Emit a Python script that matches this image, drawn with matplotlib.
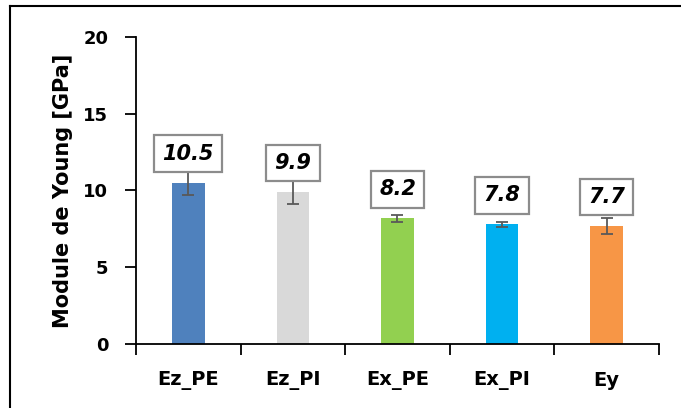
import matplotlib
matplotlib.use('Agg')
import matplotlib.pyplot as plt
from matplotlib.lines import Line2D

plt.rcParams['font.family'] = ['DejaVu Sans']

# donnees
categories = ['Ez_PE', 'Ez_PI', 'Ex_PE', 'Ex_PI', 'Ey']
valeurs = [10.5, 9.9, 8.2, 7.8, 7.7]
erreurs = [0.8, 0.8, 0.23, 0.18, 0.5]
couleurs = ['#4F81BD', '#D9D9D9', '#92D050', '#00B0F0', '#F79646']
yticks = [0, 5, 10, 15, 20]

fig = plt.figure(figsize=(6.81, 4.08), dpi=100)
ax = fig.add_axes([0.1997, 0.1561, 0.768, 0.754])

x = range(len(categories))
ax.bar(x, valeurs, width=0.31, color=couleurs, zorder=2)
ax.errorbar(x, valeurs, yerr=erreurs, fmt='none', ecolor='#595959',
            elinewidth=1.3, capsize=4.3, capthick=1.3, zorder=3)

# etiquettes de valeur dans des cadres
for xi, v in zip(x, valeurs):
    ax.annotate('%.1f' % v, (xi, v), xytext=(0, 29), textcoords='offset pixels',
                ha='center', va='center', fontsize=15, fontweight='bold',
                fontstyle='italic', zorder=4,
                bbox=dict(boxstyle='square,pad=0.4', fc='white', ec='#8C8C8C', lw=1.6))

ax.set_xlim(-0.5, len(categories) - 0.5)
ax.set_ylim(0, 20)
ax.set_yticks(yticks)
ax.set_yticklabels([str(t) for t in yticks], fontsize=13, fontweight='bold')
ax.set_xticks([i - 0.5 for i in range(len(categories) + 1)])
ax.set_xticklabels([])
ax.set_xticks(list(x), minor=True)
ax.set_xticklabels(categories, minor=True, fontsize=14, fontweight='bold')
ax.tick_params(axis='x', which='minor', length=0, pad=19)
ax.tick_params(axis='x', which='major', length=8, width=1.3, direction='out')
ax.tick_params(axis='y', length=8, width=1.3, direction='out', pad=12)
ax.set_ylabel('Module de Young [GPa]', fontsize=15, fontweight='bold', labelpad=7)

for s in ['top', 'right']:
    ax.spines[s].set_visible(False)
for s in ['left', 'bottom']:
    ax.spines[s].set_linewidth(1.3)

# cadre exterieur (gauche et haut seulement visibles)
fig.add_artist(Line2D([10 / 681, 10 / 681], [0, 1 - 6 / 408], color='black', lw=1.5))
fig.add_artist(Line2D([10 / 681, 1], [1 - 6 / 408, 1 - 6 / 408], color='black', lw=1.5))

fig.savefig('out.png', dpi=100)
